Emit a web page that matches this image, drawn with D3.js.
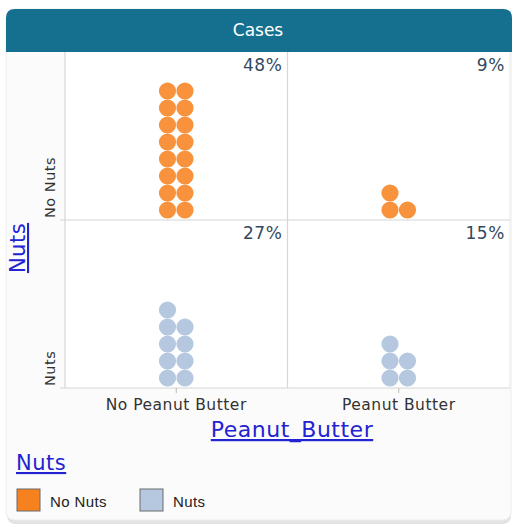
<!DOCTYPE html>
<html>
    <head>
        <script src="https://cdn.jsdelivr.net/npm/d3@7/dist/d3.min.js" charset="utf-8"></script>
        <style>
            body { margin: 0; background: #ffffff; }
        </style>
    </head>
    <body>
        <script>
            var w = 513;
            var h = 527;

            // categories
            var peanutCats = ["No Peanut Butter", "Peanut Butter"];
            var nutsCats = ["No Nuts", "Nuts"];
            // case counts per cell
            var cellPeanut = ["No Peanut Butter", "Peanut Butter", "No Peanut Butter", "Peanut Butter"];
            var cellNuts = ["No Nuts", "No Nuts", "Nuts", "Nuts"];
            var cellCounts = [16, 3, 9, 5];

            var nutsColors = ["#f8923c", "#b6c8e0"];

            var total = d3.sum(cellCounts);
            var font = "'DejaVu Sans', sans-serif";

            var svg = d3.select("body")
                        .append("svg")
                        .attr("width", w)
                        .attr("height", h)
                        .style("font-family", font);

            // card + shadow
            svg.append("rect")
               .attr("x", 7).attr("y", 12)
               .attr("width", 504).attr("height", 512)
               .attr("rx", 8)
               .attr("fill", "#e3e3e3");
            svg.append("rect")
               .attr("x", 6).attr("y", 9)
               .attr("width", 505).attr("height", 511)
               .attr("rx", 8)
               .attr("fill", "#fbfbfb")
               .attr("stroke", "#ececec");

            // title bar
            svg.append("path")
               .attr("d", "M6,52 L6,18 Q6,9 15,9 L503,9 Q512,9 512,18 L512,52 Z")
               .attr("fill", "#15708f");
            svg.append("text")
               .attr("x", 258).attr("y", 36)
               .attr("text-anchor", "middle")
               .attr("font-size", "17px")
               .attr("fill", "#ffffff")
               .text("Cases");

            var x = d3.scaleBand().domain(peanutCats).range([65, 510]);
            var y = d3.scaleBand().domain(nutsCats).range([52, 388]);
            var color = d3.scaleOrdinal().domain(nutsCats).range(nutsColors);

            // plot background
            svg.append("rect")
               .attr("x", 65).attr("y", 52)
               .attr("width", 445).attr("height", 336)
               .attr("fill", "#ffffff");

            // cell borders
            var grid = svg.append("g")
                          .attr("stroke", "#d6d6d6")
                          .attr("stroke-width", 1.2);
            grid.selectAll("line.v")
                .data(peanutCats.concat(["end"]))
                .enter()
                .append("line")
                .attr("x1", (d, i) => i < 2 ? x(d) : x.range()[1])
                .attr("x2", (d, i) => i < 2 ? x(d) : x.range()[1])
                .attr("y1", 52).attr("y2", 388)
                .attr("stroke", (d, i) => i == 2 ? "#eeeeee" : null);
            grid.selectAll("line.h")
                .data(nutsCats)
                .enter()
                .append("line")
                .attr("x1", 60).attr("x2", 510)
                .attr("y1", d => y(d) + y.bandwidth())
                .attr("y2", d => y(d) + y.bandwidth());

            // x axis
            var xAxis = svg.append("g")
                           .attr("transform", "translate(0,388)")
                           .call(d3.axisBottom(x).tickSize(5).tickSizeOuter(0));
            xAxis.select(".domain").remove();
            xAxis.selectAll("line").attr("stroke", "#bbbbbb");
            xAxis.selectAll("text")
                 .attr("font-size", "15.5px")
                 .attr("font-family", font)
                 .attr("letter-spacing", "0.5px")
                 .attr("fill", "#333333")
                 .attr("dy", "0.9em");

            // y labels, rotated, anchored at band bottom
            svg.selectAll("text.ylab")
               .data(nutsCats)
               .enter()
               .append("text")
               .attr("class", "ylab")
               .attr("transform", d => "translate(55," + (y(d) + y.bandwidth() - 2) + ") rotate(-90)")
               .attr("text-anchor", "start")
               .attr("font-size", "14.5px")
               .attr("letter-spacing", "0.5px")
               .attr("fill", "#333333")
               .text(d => d);

            // dots
            var step = 17.5;
            var dots = [];
            cellCounts.forEach(function (n, c) {
                for (var k = 0; k < n; k++) {
                    dots.push({ peanut: cellPeanut[c], nuts: cellNuts[c], col: k % 2, row: Math.floor(k / 2) });
                }
            });
            svg.selectAll("circle")
               .data(dots)
               .enter()
               .append("circle")
               .attr("cx", d => x(d.peanut) + x.bandwidth() / 2 + (d.col - 0.5) * step)
               .attr("cy", d => y(d.nuts) + y.bandwidth() - 10 - d.row * 17)
               .attr("r", 8.6)
               .attr("fill", d => color(d.nuts));

            // percentages
            svg.selectAll("text.pct")
               .data(cellCounts)
               .enter()
               .append("text")
               .attr("class", "pct")
               .attr("x", (d, i) => x(cellPeanut[i]) + x.bandwidth() - 5)
               .attr("y", (d, i) => y(cellNuts[i]) + 19)
               .attr("text-anchor", "end")
               .attr("font-size", "17px")
               .attr("letter-spacing", "0.6px")
               .attr("fill", "#34495e")
               .text(d => Math.round(d / total * 100) + "%");

            // attribute labels
            svg.append("text")
               .attr("x", 292).attr("y", 437)
               .attr("text-anchor", "middle")
               .attr("font-size", "22px")
               .attr("letter-spacing", "0.5px")
               .attr("fill", "#2323d2")
               .attr("text-decoration", "underline")
               .text("Peanut_Butter");
            svg.append("text")
               .attr("transform", "translate(25,248) rotate(-90)")
               .attr("text-anchor", "middle")
               .attr("font-size", "21px")
               .attr("letter-spacing", "0.5px")
               .attr("fill", "#2323d2")
               .attr("text-decoration", "underline")
               .text("Nuts");

            // legend
            svg.append("text")
               .attr("x", 16).attr("y", 470)
               .attr("font-size", "21px")
               .attr("letter-spacing", "0.5px")
               .attr("fill", "#2323d2")
               .attr("text-decoration", "underline")
               .text("Nuts");
            var legendX = [17, 140];
            var leg = svg.selectAll("g.leg")
                         .data(nutsCats)
                         .enter()
                         .append("g")
                         .attr("class", "leg")
                         .attr("transform", (d, i) => "translate(" + legendX[i] + ",489)");
            leg.append("rect")
               .attr("width", 23).attr("height", 22)
               .attr("fill", d => d == "No Nuts" ? "#f5821f" : color(d))
               .attr("stroke", "#6b6b6b")
               .attr("stroke-width", 1);
            leg.append("text")
               .attr("x", 33).attr("y", 18)
               .attr("font-size", "15px")
               .attr("font-family", "'Liberation Sans', sans-serif")
               .attr("letter-spacing", "0.4px")
               .attr("fill", "#222222")
               .text(d => d);
        </script>
    </body>
</html>
